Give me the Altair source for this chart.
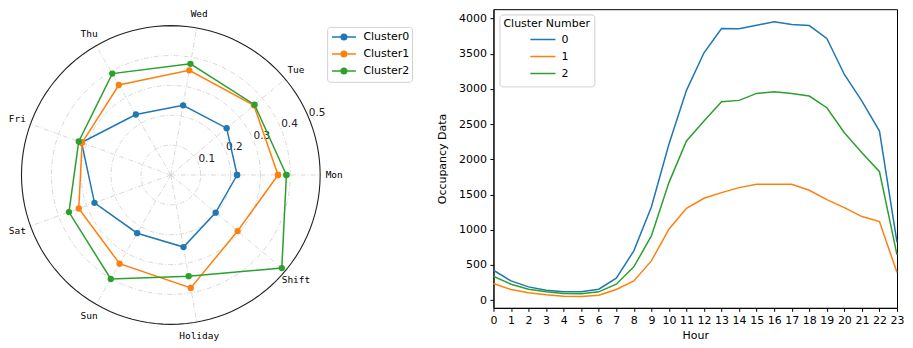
import altair as alt
import pandas as pd

# ---------------- data ----------------
categories = ["Mon", "Tue", "Wed", "Thu", "Fri", "Sat", "Sun", "Holiday", "Shift"]
cluster_names = ["Cluster0", "Cluster1", "Cluster2"]
cluster0 = [0.222, 0.244, 0.237, 0.234, 0.318, 0.272, 0.225, 0.245, 0.196]
cluster1 = [0.359, 0.363, 0.356, 0.348, 0.316, 0.328, 0.343, 0.384, 0.292]
cluster2 = [0.387, 0.366, 0.378, 0.392, 0.328, 0.363, 0.402, 0.344, 0.485]
r_ticks = [0.1, 0.2, 0.3, 0.4, 0.5]
r_tick_labels = ["0.1", "0.2", "0.3", "0.4", "0.5"]

hours = list(range(24))
cluster_numbers = ["0", "1", "2"]
occ0 = [425, 274, 189, 142, 118, 118, 156, 312, 700, 1324, 2213, 2979,
        3513, 3858, 3853, 3905, 3953, 3915, 3900, 3716, 3205, 2827, 2402, 820]
occ1 = [236, 151, 104, 76, 57, 52, 71, 151, 274, 558, 1007, 1305,
        1447, 1527, 1598, 1645, 1645, 1645, 1560, 1428, 1314, 1187, 1116, 392]
occ2 = [340, 227, 156, 118, 95, 90, 118, 227, 473, 912, 1669, 2260,
        2544, 2818, 2837, 2936, 2960, 2936, 2898, 2733, 2378, 2094, 1825, 643]

colors = ["#1f77b4", "#ff7f0e", "#2ca02c"]

# ---------------- radar geometry helpers ----------------
N = len(categories)
R_MAX = 0.5
LABEL_R = 0.547
TICK_ANGLE_DEG = 22.5
PX_PER_UNIT = 299.0
CX, CY = 170.0, 174.0          # centre in page px
LEFT_W, LEFT_H = 412, 332
x_dom = [-(CX - 8) / PX_PER_UNIT, -(CX - 8) / PX_PER_UNIT + LEFT_W / PX_PER_UNIT]
y_top = (CY - 8) / PX_PER_UNIT
y_dom = [y_top - LEFT_H / PX_PER_UNIT, y_top]

xs = alt.Scale(domain=x_dom, nice=False, zero=False)
ys = alt.Scale(domain=y_dom, nice=False, zero=False)

rows = []
for name, vals in zip(cluster_names, [cluster0, cluster1, cluster2]):
    for k in range(N + 1):
        i = k % N
        rows.append({"cluster": name, "category": categories[i], "idx": i,
                     "order": k, "value": vals[i]})
radar_df = pd.DataFrame(rows)

grid_rows = []
for r in r_ticks:
    for a in range(0, 361, 3):
        grid_rows.append({"r": r, "deg": a})
grid_df = pd.DataFrame(grid_rows)

spoke_rows = []
for i in range(N):
    for r in [0.0, R_MAX]:
        spoke_rows.append({"idx": i, "r": r})
spoke_df = pd.DataFrame(spoke_rows)

cat_df = pd.DataFrame({"category": categories, "idx": list(range(N))})
tick_df = pd.DataFrame({"r": r_ticks, "label": r_tick_labels})

polar_xy = dict(x="datum.r * cos(datum.ang)", y="datum.r * sin(datum.ang)")

grid_color = "#cfcfcf"
grid_dash = [5, 2, 1, 2]
X = alt.X("x:Q", scale=xs, axis=None)
Y = alt.Y("y:Q", scale=ys, axis=None)

grid = alt.Chart(grid_df).transform_filter(f"datum.r < {R_MAX}").transform_calculate(
    ang="datum.deg * PI / 180").transform_calculate(**polar_xy).mark_line(
    color=grid_color, strokeWidth=0.8, strokeDash=grid_dash).encode(
    x=X, y=Y, detail="r:N", order="deg:Q")

outer = alt.Chart(grid_df).transform_filter(f"datum.r == {R_MAX}").transform_calculate(
    ang="datum.deg * PI / 180").transform_calculate(**polar_xy).mark_line(
    color="#222222", strokeWidth=1.1).encode(x=X, y=Y, order="deg:Q")

spokes = alt.Chart(spoke_df).transform_calculate(
    ang=f"datum.idx * 2 * PI / {N}").transform_calculate(**polar_xy).mark_line(
    color=grid_color, strokeWidth=0.8, strokeDash=grid_dash).encode(
    x=X, y=Y, detail="idx:N", order="r:Q")

cat_labels = alt.Chart(cat_df).transform_calculate(
    ang=f"datum.idx * 2 * PI / {N}", r=f"{LABEL_R}").transform_calculate(**polar_xy).mark_text(
    font="DejaVu Sans Mono", fontSize=9.5, color="black", align="center", baseline="middle").encode(
    x=X, y=Y, text="category:N")

tick_labels = alt.Chart(tick_df).transform_calculate(
    ang=f"{TICK_ANGLE_DEG} * PI / 180").transform_calculate(**polar_xy).mark_text(
    font="DejaVu Sans", fontSize=10.5, color="#222222", align="left", baseline="bottom").encode(
    x=X, y=Y, text="label:N")

radar_base = alt.Chart(radar_df).transform_calculate(
    ang=f"datum.idx * 2 * PI / {N}", r="datum.value").transform_calculate(**polar_xy)

# legend symbol: a line with a dot (dot built from concentric stroked rings)
legend_path = ("M-4,0H4"
               "M-0.92,0A0.92,0.92,0,1,1,0.92,0A0.92,0.92,0,1,1,-0.92,0"
               "M-0.5,0A0.5,0.5,0,1,1,0.5,0A0.5,0.5,0,1,1,-0.5,0"
               "M-0.12,0A0.12,0.12,0,1,1,0.12,0A0.12,0.12,0,1,1,-0.12,0")
radar_legend = alt.Legend(
    title=None, orient="none", legendX=318.5, legendY=17.7,
    symbolType=legend_path, symbolSize=36, symbolStrokeWidth=1.5,
    symbolOffset=9.3, labelOffset=14, labelFont="DejaVu Sans", labelFontSize=11,
    labelColor="black", padding=2, clipHeight=16.5, rowPadding=0,
    strokeColor="#d0d0d0", cornerRadius=3, fillColor="white",
)

radar_color = alt.Scale(domain=cluster_names, range=colors)
radar_lines = radar_base.mark_line(strokeWidth=1.5).encode(
    x=X, y=Y,
    color=alt.Color("cluster:N", scale=radar_color, legend=radar_legend),
    order="order:Q",
)
radar_points = radar_base.mark_circle(size=40, opacity=1).encode(
    x=X, y=Y,
    color=alt.Color("cluster:N", scale=radar_color, legend=None),
)

left = alt.layer(grid, spokes, tick_labels, cat_labels, outer, radar_lines, radar_points).properties(
    width=LEFT_W, height=LEFT_H, view=alt.ViewBackground(strokeOpacity=0))

# ---------------- line chart ----------------
line_rows = []
for cn, vals in zip(cluster_numbers, [occ0, occ1, occ2]):
    for h, v in zip(hours, vals):
        line_rows.append({"Hour": h, "Cluster Number": cn, "Occupancy": v})
line_df = pd.DataFrame(line_rows)

right = alt.Chart(line_df).mark_line(strokeWidth=1.5).encode(
    x=alt.X("Hour:Q", scale=alt.Scale(domain=[0, 23], nice=False, zero=False),
            axis=alt.Axis(values=hours, format="d", labelAngle=0, title="Hour",
                          titlePadding=3.5, labelFlush=False, labelOverlap=False)),
    y=alt.Y("Occupancy:Q", scale=alt.Scale(domain=[-109, 4132], nice=False, zero=False),
            axis=alt.Axis(values=list(range(0, 4001, 500)), format="d", title="Occupancy Data",
                          titlePadding=11)),
    color=alt.Color("Cluster Number:N", scale=alt.Scale(domain=cluster_numbers, range=colors),
                    legend=alt.Legend(
                        title="Cluster Number", orient="none", legendX=6, legendY=5.3,
                        symbolType="M-4.2,0H4.2", symbolSize=36, symbolStrokeWidth=1.5,
                        symbolOffset=34, labelOffset=13, labelFont="DejaVu Sans",
                        labelFontSize=11, labelColor="black", titleFont="DejaVu Sans",
                        titleFontSize=11, titleFontWeight="normal", titleColor="black",
                        titlePadding=2, padding=4, clipHeight=16.3, rowPadding=0,
                        strokeColor="#d0d0d0", cornerRadius=3, fillColor="white")),
    order="Hour:Q",
).properties(width=404, height=299)

chart = alt.hconcat(left, right, spacing=73, bounds="flush").resolve_scale(
    color="independent").resolve_legend(color="independent").properties(
    padding=0).configure_view(stroke="black", strokeWidth=1).configure_axis(
    labelFont="DejaVu Sans", labelFontSize=11, labelColor="black",
    titleFont="DejaVu Sans", titleFontSize=11, titleFontWeight="normal", titleColor="black",
    domainColor="black", tickColor="black", tickSize=3.5, labelPadding=3.5, grid=False)

chart.save("out.html", embed_options={"renderer": "svg", "actions": False})
